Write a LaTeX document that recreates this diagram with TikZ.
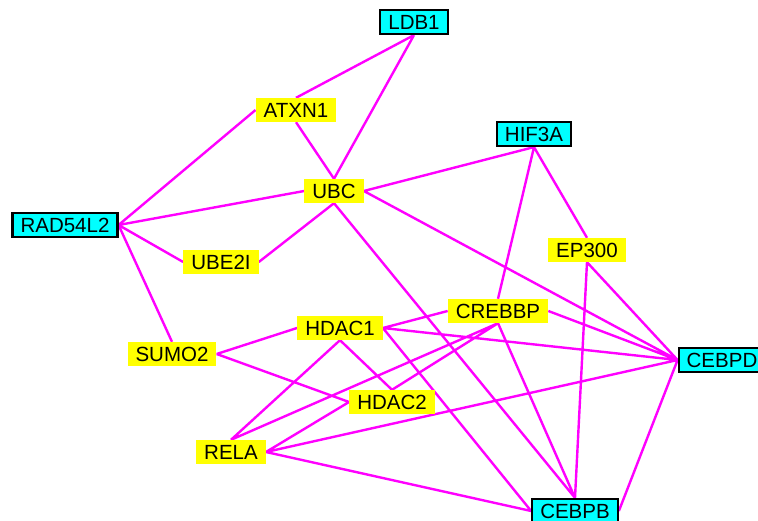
\documentclass[tikz,border=0pt]{standalone}
\usepackage{fontspec}
\setmainfont{Liberation Sans}
\usepackage{tikz}
\usetikzlibrary{backgrounds}
\definecolor{nodecyan}{RGB}{0,255,255}
\definecolor{nodeyellow}{RGB}{255,255,0}
\definecolor{edgemag}{RGB}{255,0,255}
\tikzset{
  gene/.style={rectangle, fill=nodeyellow, inner xsep=8pt, inner ysep=0pt,
               minimum height=24pt, font=\fontsize{20.5}{24}\selectfont},
  seed/.style={gene, fill=nodecyan, draw=black, line width=2.2pt},
  link/.style={draw=edgemag, line width=2.4pt}
}
\begin{document}
\begin{tikzpicture}[x=1pt,y=-1pt]
    \useasboundingbox (0,0) rectangle (758,521);
    \clip (0,0) rectangle (758,521);
    % Draw nodes
    \node (ldb1)    at (414,22)  [seed] {LDB1};
    \node (hif3a)   at (534,134) [seed] {HIF3A};
    \node (rad54l2) at (65,225)  [seed] {RAD54L2};
    \node (cebpd)   at (722,360) [seed] {CEBPD};
    \node (cebpb)   at (575,511) [seed] {CEBPB};
    \node (atxn1)   at (296,110) [gene] {ATXN1};
    \node (ubc)     at (334,191) [gene] {UBC};
    \node (ube2i)   at (221,262) [gene] {UBE2I};
    \node (ep300)   at (587,250) [gene] {EP300};
    \node (crebbp)  at (498,311) [gene] {CREBBP};
    \node (hdac1)   at (340,328) [gene] {HDAC1};
    \node (sumo2)   at (172,354) [gene] {SUMO2};
    \node (hdac2)   at (392,402) [gene] {HDAC2};
    \node (rela)    at (231,452) [gene] {RELA};
    % Draw edges behind the nodes
    \begin{scope}[on background layer]
    \path[link] (ldb1.south) -- (atxn1.north)
                (ldb1.south) -- (ubc.north)
                (atxn1.south) -- (ubc.north)
                (rad54l2.east) -- (atxn1.west)
                (rad54l2.east) -- (ubc.west)
                (rad54l2.east) -- (ube2i.west)
                (rad54l2.east) -- (sumo2.north)
                (ubc.south) -- (ube2i.east)
                (ubc.east) -- (hif3a.south)
                (ubc.east) -- (cebpd.west)
                (ubc.south) -- (cebpb.north)
                (hif3a.south) -- (crebbp.north)
                (hif3a.south) -- (ep300.north)
                (ep300.south) -- (cebpd.west)
                (ep300.south) -- (cebpb.north)
                (crebbp.east) -- (cebpd.west)
                (crebbp.south) -- (cebpb.north)
                (crebbp.west) -- (hdac1.east)
                (crebbp.south) -- (rela.north)
                (crebbp.south) -- (hdac2.north)
                (hdac1.east) -- (cebpd.west)
                (hdac1.east) -- (cebpb.west)
                (hdac1.south) -- (hdac2.north)
                (hdac1.south) -- (rela.north)
                (hdac1.west) -- (sumo2.east)
                (sumo2.east) -- (hdac2.west)
                (rela.east) -- (hdac2.west)
                (rela.east) -- (cebpd.west)
                (rela.east) -- (cebpb.west)
                (cebpd.west) -- (cebpb.east);
    \end{scope}
\end{tikzpicture}
\end{document}
